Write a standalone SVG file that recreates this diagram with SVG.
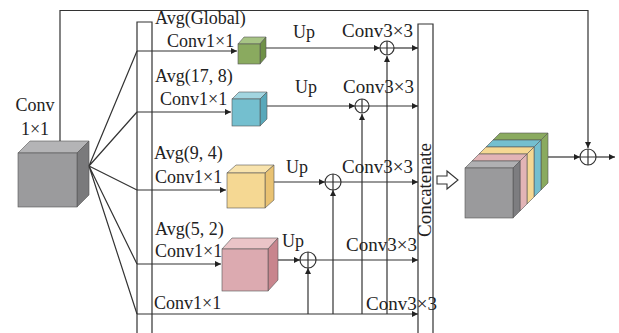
<svg xmlns="http://www.w3.org/2000/svg" width="619" height="333" viewBox="0 0 619 333">
<style>
text{font-family:"Liberation Serif","Times New Roman",serif;font-size:18px;fill:#222}
.c3{font-size:19px}
.ln{fill:none;stroke:#333;stroke-width:1.2}
.arr{marker-end:url(#ah)}
.bar{fill:#fff;stroke:#333;stroke-width:1.2}
.op circle{fill:#fff;stroke:#333;stroke-width:1.2}
.op path{stroke:#333;stroke-width:1.2}
.edge{stroke:#555;stroke-width:0.6}
</style>
<defs>
<marker id="ah" viewBox="0 0 10 10" refX="10" refY="5" markerWidth="9" markerHeight="6" markerUnits="userSpaceOnUse" orient="auto"><path d="M0,0 L10,5 L0,10 z" fill="#222"/></marker>
</defs>

<!-- input cube -->
<g id="input-cube" class="edge">
<polygon points="18,153 30,141 89,141 77,153" fill="#b4b4b6"/>
<polygon points="77,153 89,141 89,195 77,207" fill="#7a7a7c"/>
<rect x="18" y="153" width="59" height="54" fill="#9b9b9d"/>
</g>
<g id="input-label">
<text x="35" y="111" text-anchor="middle" font-size="19">Conv</text>
<text x="35" y="135" text-anchor="middle" font-size="19">1×1</text>
</g>

<!-- pooling bar -->
<g id="pool-bar"><path class="bar" d="M137,340 V22 H152 V340"/></g>
<!-- concat bar -->
<g id="concat-bar">
<path class="bar" d="M418,340 V24 H433 V340"/>
<text class="c3" transform="translate(431,190) rotate(-90)" text-anchor="middle">Concatenate</text>
</g>

<!-- connectors -->
<g id="connectors">
<path class="ln" d="M60,141 V10.5 H588 V148" marker-end="url(#ah)"/>
<path class="ln" d="M89,166 L137,51 M89,166 L137,112 M89,166 L137,190 M89,166 L137,264 M89,166 L137,314"/>
<path class="ln arr" d="M137,51 H237"/>
<path class="ln arr" d="M265,48 H380"/>
<path class="ln arr" d="M394,48 H418"/>
<path class="ln arr" d="M137,112 H231"/>
<path class="ln arr" d="M267,106 H355"/>
<path class="ln arr" d="M369,106 H418"/>
<path class="ln arr" d="M137,190 H226"/>
<path class="ln arr" d="M274,182 H325"/>
<path class="ln arr" d="M341,182 H418"/>
<path class="ln arr" d="M137,264 H221"/>
<path class="ln arr" d="M278,260 H300"/>
<path class="ln arr" d="M316,260 H418"/>
<path class="ln arr" d="M137,314 H418"/>
<path class="ln arr" d="M308,314 V268"/>
<path class="ln arr" d="M333,314 V190"/>
<path class="ln arr" d="M362,314 V114"/>
<path class="ln arr" d="M387,314 V56"/>
<path class="ln arr" d="M548,157 H580"/>
<path class="ln arr" d="M596,157 H615"/>
<path d="M437,176 H447 V171 L458,180 L447,189 V184 H437 Z" fill="#fff" stroke="#333" stroke-width="1.1"/>
</g>

<!-- branch cubes -->
<g id="cube-global" class="edge">
<polygon points="238,44 244,37 266,37 260,44" fill="#a7c485"/>
<polygon points="260,44 266,37 266,57 260,64" fill="#6f9147"/>
<rect x="238" y="44" width="22" height="20" fill="#8aaa5f"/>
</g>
<g id="cube-17-8" class="edge">
<polygon points="232,99 239,92 267,92 260,99" fill="#a2d5e0"/>
<polygon points="260,99 267,92 267,119 260,126" fill="#58a8ba"/>
<rect x="232" y="99" width="28" height="27" fill="#74bfcf"/>
</g>
<g id="cube-9-4" class="edge">
<polygon points="227,173 236,165 274,165 265,173" fill="#f8e3ad"/>
<polygon points="265,173 274,165 274,200 265,208" fill="#e9c272"/>
<rect x="227" y="173" width="38" height="35" fill="#f5d893"/>
</g>
<g id="cube-5-2" class="edge">
<polygon points="222,249 232,238 278,238 268,249" fill="#eac4c7"/>
<polygon points="268,249 278,238 278,280 268,291" fill="#c8858d"/>
<rect x="222" y="249" width="46" height="42" fill="#dcaab0"/>
</g>

<!-- output stack -->
<g id="stack" class="edge">
<polygon points="493,140 500,133 548,133 541,140" fill="#8aaa5f"/>
<polygon points="541,140 548,133 548,183 541,190" fill="#8aaa5f"/>
<polygon points="486,147 493,140 541,140 534,147" fill="#74bfcf"/>
<polygon points="534,147 541,140 541,190 534,197" fill="#74bfcf"/>
<polygon points="479,154 486,147 534,147 527,154" fill="#f5d893"/>
<polygon points="527,154 534,147 534,197 527,204" fill="#f5d893"/>
<polygon points="472,161 479,154 527,154 520,161" fill="#e2b4b6"/>
<polygon points="520,161 527,154 527,204 520,211" fill="#e2b4b6"/>
<polygon points="465,168 472,161 520,161 513,168" fill="#b0b0b2"/>
<polygon points="513,168 520,161 520,211 513,218" fill="#7d7d80"/>
<rect x="465" y="168" width="48" height="50" fill="#9a9a9c"/>
</g>

<!-- add operators -->
<g id="add1" class="op"><circle cx="387" cy="48" r="7"/><path d="M380,48 H394 M387,41 V55"/></g>
<g id="add2" class="op"><circle cx="362" cy="106" r="7"/><path d="M355,106 H369 M362,99 V113"/></g>
<g id="add3" class="op"><circle cx="333" cy="182" r="8"/><path d="M325,182 H341 M333,174 V190"/></g>
<g id="add4" class="op"><circle cx="308" cy="260" r="8"/><path d="M300,260 H316 M308,252 V268"/></g>
<g id="add5" class="op"><circle cx="588" cy="157" r="8"/><path d="M580,157 H596 M588,149 V165"/></g>

<!-- labels -->
<g id="labels">
<text x="155" y="24">Avg(Global)</text>
<text x="167" y="47">Conv1×1</text>
<text x="155" y="82">Avg(17, 8)</text>
<text x="160" y="105">Conv1×1</text>
<text x="154" y="159">Avg(9, 4)</text>
<text x="155" y="183">Conv1×1</text>
<text x="155" y="235">Avg(5, 2)</text>
<text x="155" y="257">Conv1×1</text>
<text x="154" y="309">Conv1×1</text>
<text x="293" y="38">Up</text>
<text x="295" y="93">Up</text>
<text x="286" y="173">Up</text>
<text x="282" y="247">Up</text>
<text class="c3" x="342" y="37">Conv3×3</text>
<text class="c3" x="343" y="93">Conv3×3</text>
<text class="c3" x="342" y="173">Conv3×3</text>
<text class="c3" x="346" y="251">Conv3×3</text>
<text class="c3" x="366" y="310">Conv3×3</text>
</g>
</svg>
